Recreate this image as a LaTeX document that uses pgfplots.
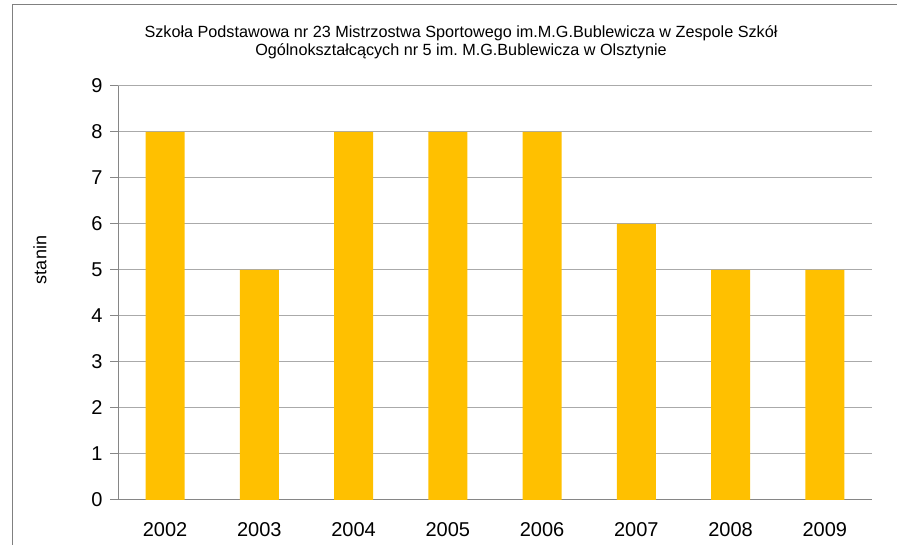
\documentclass[border=0pt]{standalone}
\usepackage{pgfplots}
\pgfplotsset{compat=1.18}
\usepackage{fontspec}
\setmainfont{Liberation Sans}
\frenchspacing
\definecolor{bargold}{RGB}{255,192,0}
\definecolor{gridgray}{RGB}{170,170,170}
\definecolor{axgray}{RGB}{134,134,134}
\definecolor{framegray}{RGB}{128,128,128}
\begin{document}
\begin{tikzpicture}[x=1pt,y=1pt]
\useasboundingbox (0,0) rectangle (897,545);
\draw[framegray, line width=1pt] (12,0) -- (12,540) -- (897,540);
\begin{axis}[
  at={(118pt,45pt)}, anchor=south west,
  scale only axis, width=754pt, height=414pt,
  xmin=-0.5, xmax=7.5, ymin=0, ymax=9,
  axis x line*=bottom, axis y line*=left,
  axis line style={draw=axgray, line width=1pt},
  xtick={0,...,7},
  xticklabels={2002,2003,2004,2005,2006,2007,2008,2009},
  x tick style={draw=none},
  extra x ticks={-0.5,0.5,1.5,2.5,3.5,4.5,5.5,6.5,7.5},
  extra x tick labels={},
  extra x tick style={grid=none, major tick length=7pt, tick style={draw=axgray, line width=1pt}, tick align=outside},
  ytick={0,...,9},
  y tick style={draw=axgray, line width=1pt},
  tick align=outside, major tick length=8pt,
  ymajorgrids, grid style={draw=gridgray, line width=1pt},
  /pgf/number format/assume math mode=true,
  tick label style={font=\fontsize{20}{24}\selectfont, text=black},
  yticklabel style={xshift=-4pt},
  xticklabel style={yshift=-11pt},
  ybar, bar width=39pt,
  clip=false,
]
\addplot[fill=bargold, draw=none] coordinates {(0,8) (1,5) (2,8) (3,8) (4,8) (5,6) (6,5) (7,5)};
\end{axis}
\node[align=center, font=\fontsize{16.2}{17.5}\selectfont, anchor=center] at (461,503) {Szkoła Podstawowa nr 23 Mistrzostwa Sportowego im.M.G.Bublewicza w Zespole Szkół\\Ogólnokształcących nr 5 im.\ M.G.Bublewicza w Olsztynie};
\node[rotate=90, font=\fontsize{18}{22}\selectfont] at (40,285) {stanin};
\end{tikzpicture}
\end{document}
